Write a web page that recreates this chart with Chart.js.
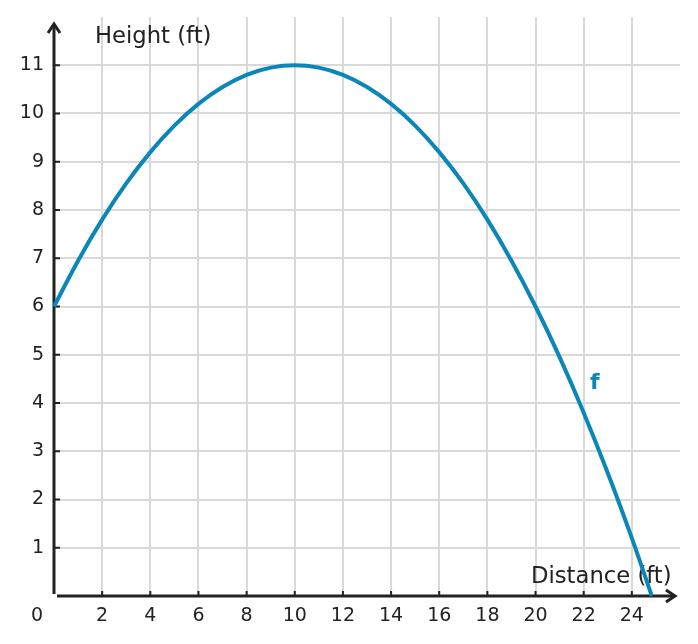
<!DOCTYPE html>
<html>
<head>
<meta charset="utf-8">
<script src="https://cdn.jsdelivr.net/npm/chart.js@4"></script>
<style>
html,body{margin:0;padding:0;background:#fff;}
#wrap{width:698px;height:644px;}
</style>
</head>
<body>
<div id="wrap"><canvas id="c" width="698" height="644"></canvas></div>
<script>
// Data
const distances = [0,1,2,3,4,5,6,7,8,9,10,11,12,13,14,15,16,17,18,19,20,21,22,23,24,24.83];
const heights   = [6,6.95,7.8,8.55,9.2,9.75,10.2,10.55,10.8,10.95,11,10.95,10.8,10.55,10.2,9.75,9.2,8.55,7.8,6.95,6,4.95,3.8,2.55,1.2,0];
const xTickLabels = ['2','4','6','8','10','12','14','16','18','20','22','24'];
const yTickLabels = ['1','2','3','4','5','6','7','8','9','10','11'];
const xTitle = 'Distance (ft)';
const yTitle = 'Height (ft)';
const seriesName = 'f';

const AXIS = '#222222';
const CURVE = '#0a87b8';
const GRID = '#d9d9d9';
const FONT = '"DejaVu Sans", sans-serif';

const points = distances.map((x, i) => ({x: x, y: heights[i]}));

const axesPlugin = {
  id: 'axesPlugin',
  beforeDatasetsDraw(chart) {
    const ctx = chart.ctx;
    const xs = chart.scales.x, ys = chart.scales.y;
    const x0 = xs.getPixelForValue(0), y0 = ys.getPixelForValue(0);
    ctx.save();
    ctx.strokeStyle = AXIS;
    ctx.lineWidth = 3;
    ctx.lineCap = 'butt';
    // y axis
    ctx.beginPath();
    ctx.moveTo(x0, y0 - 2);
    ctx.lineTo(x0, 24);
    ctx.stroke();
    ctx.beginPath();
    ctx.moveTo(x0 - 6, 33);
    ctx.lineTo(x0, 24);
    ctx.lineTo(x0 + 6, 33);
    ctx.stroke();
    // x axis
    ctx.beginPath();
    ctx.moveTo(x0 + 3, y0);
    ctx.lineTo(675, y0);
    ctx.stroke();
    ctx.beginPath();
    ctx.moveTo(666, y0 - 6);
    ctx.lineTo(675, y0);
    ctx.lineTo(666, y0 + 6);
    ctx.stroke();
    // tick marks
    ctx.lineWidth = 2;
    xTickLabels.forEach(l => {
      const px = xs.getPixelForValue(Number(l));
      ctx.beginPath();
      ctx.moveTo(px, y0);
      ctx.lineTo(px, y0 - 5);
      ctx.stroke();
    });
    yTickLabels.forEach(l => {
      const py = ys.getPixelForValue(Number(l));
      ctx.beginPath();
      ctx.moveTo(x0, py);
      ctx.lineTo(x0 + 6, py);
      ctx.stroke();
    });
    // texts
    ctx.fillStyle = AXIS;
    ctx.font = '22.7px ' + FONT;
    ctx.textAlign = 'left';
    ctx.textBaseline = 'alphabetic';
    ctx.fillText(yTitle, 95, 43);
    ctx.fillText(xTitle, 531, 583);
    ctx.font = '19px ' + FONT;
    ctx.textAlign = 'center';
    ctx.fillText('0', 37, 621);
    // series label
    ctx.fillStyle = CURVE;
    ctx.font = 'bold 22px ' + FONT;
    ctx.textAlign = 'left';
    ctx.fillText(seriesName, 590, 389);
    ctx.restore();
  }
};

new Chart(document.getElementById('c'), {
  type: 'scatter',
  data: {
    datasets: [{
      label: seriesName,
      data: points,
      showLine: true,
      borderColor: CURVE,
      borderWidth: 4,
      pointRadius: 0,
      cubicInterpolationMode: 'monotone',
      fill: false,
      clip: false
    }]
  },
  options: {
    responsive: false,
    animation: false,
    devicePixelRatio: 1,
    layout: {padding: {top: 17, right: 18, left: 0, bottom: 0}},
    plugins: {legend: {display: false}, tooltip: {enabled: false}},
    scales: {
      x: {
        type: 'linear',
        min: 0, max: 26,
        afterFit(s) { s.height = 48; s.paddingLeft = 0; s.paddingRight = 0; },
        border: {display: false},
        grid: {
          drawTicks: false,
          lineWidth: 2,
          color: c => (c.tick && (c.tick.value === 0 || c.tick.value === 26)) ? 'rgba(0,0,0,0)' : GRID
        },
        ticks: {
          stepSize: 2,
          padding: 9,
          color: AXIS,
          font: {family: FONT, size: 19},
          maxRotation: 0,
          autoSkip: false,
          callback: v => xTickLabels.includes(String(v)) ? String(v) : ''
        }
      },
      y: {
        type: 'linear',
        min: 0, max: 12,
        afterFit(s) { s.width = 54; s.paddingTop = 0; s.paddingBottom = 0; },
        border: {display: false},
        grid: {
          drawTicks: false,
          lineWidth: 2,
          color: c => (c.tick && (c.tick.value === 0 || c.tick.value === 12)) ? 'rgba(0,0,0,0)' : GRID
        },
        ticks: {
          stepSize: 1,
          padding: 10,
          color: AXIS,
          font: {family: FONT, size: 19},
          autoSkip: false,
          callback: v => yTickLabels.includes(String(v)) ? String(v) : ''
        }
      }
    }
  },
  plugins: [axesPlugin]
});
</script>
</body>
</html>
